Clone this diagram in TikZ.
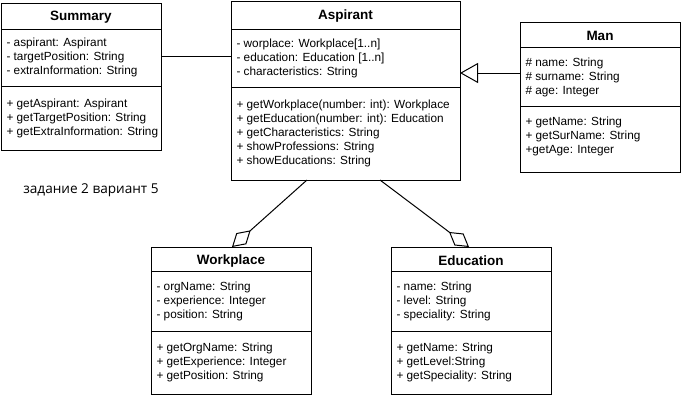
\documentclass[tikz,border=0pt]{standalone}
\usepackage{fontspec}
\setmainfont{Liberation Sans}
\newfontfamily\rufont{Open Sans}
\usetikzlibrary{arrows.meta}
\begin{document}
\begin{tikzpicture}[x=1pt,y=-1pt,line width=1pt,
  box/.style={draw,line width=1pt,anchor=north west,inner sep=0pt,outer sep=0pt},
  ttl/.style={font=\fontsize{13.5}{15}\selectfont\bfseries,inner sep=0pt},
  item/.style={anchor=base west,inner sep=0pt,font=\fontsize{11.8}{14}\selectfont},
  agg/.style={-{Diamond[open,length=25pt,width=15pt]}},
  inh/.style={-{Triangle[open,length=18pt,width=20pt]}}]
\useasboundingbox (0,0) rectangle (681,402);

% Summary
\node[box,minimum width=160pt,minimum height=147pt] (sum) at (1,3) {};
\node[ttl] (sumT) at (81,17.5) {Summary};
\draw (sum.west |- 0,29) -- (sum.east |- 0,29);
\draw (sum.west |- 0,86) -- (sum.east |- 0,86);
\foreach \t [count=\i] in {- aspirant: Aspirant,- targetPosition: String,- extraInformation: String}
  \node[item] (sumA\i) at (6,{32+14*\i}) {\t};
\foreach \t [count=\i] in {+ getAspirant: Aspirant,+ getTargetPosition: String,+ getExtraInformation: String}
  \node[item] (sumM\i) at (6,{93+14*\i}) {\t};

% Aspirant
\node[box,minimum width=229pt,minimum height=179pt] (asp) at (231,1) {};
\node[ttl] (aspT) at (345.5,16.5) {Aspirant};
\draw (asp.west |- 0,29) -- (asp.east |- 0,29);
\draw (asp.west |- 0,87) -- (asp.east |- 0,87);
\foreach \t [count=\i] in {- worplace: Workplace[1..n],- education: Education [1..n],- characteristics: String}
  \node[item] (aspA\i) at (236,{33+14*\i}) {\t};
\foreach \t [count=\i] in {+ getWorkplace(number: int): Workplace,+ getEducation(number: int): Education,+ getCharacteristics: String,+ showProfessions: String,+ showEducations: String}
  \node[item] (aspM\i) at (236,{94+14*\i}) {\t};

% Man
\node[box,minimum width=160pt,minimum height=150pt] (man) at (520,22) {};
\node[ttl] (manT) at (600,36) {Man};
\draw (man.west |- 0,47) -- (man.east |- 0,47);
\draw (man.west |- 0,106) -- (man.east |- 0,106);
\foreach \t [count=\i] in {\# name: String,\# surname: String,\# age: Integer}
  \node[item] (manA\i) at (525,{52+14*\i}) {\t};
\foreach \t [count=\i] in {+ getName: String,+ getSurName: String,+getAge: Integer}
  \node[item] (manM\i) at (525,{111+14*\i}) {\t};

% Workplace
\node[box,minimum width=160pt,minimum height=147pt] (wp) at (151,247) {};
\node[ttl] (wpT) at (231,261) {Workplace};
\draw (wp.west |- 0,271) -- (wp.east |- 0,271);
\draw (wp.west |- 0,331) -- (wp.east |- 0,331);
\foreach \t [count=\i] in {- orgName: String,- experience: Integer,- position: String}
  \node[item] (wpA\i) at (156,{276+14*\i}) {\t};
\foreach \t [count=\i] in {+ getOrgName: String,+ getExperience: Integer,+ getPosition: String}
  \node[item] (wpM\i) at (156,{337+14*\i}) {\t};

% Education
\node[box,minimum width=160pt,minimum height=147pt] (ed) at (391,247) {};
\node[ttl] (edT) at (471,261) {Education};
\draw (ed.west |- 0,271) -- (ed.east |- 0,271);
\draw (ed.west |- 0,331) -- (ed.east |- 0,331);
\foreach \t [count=\i] in {- name: String,- level: String,- speciality: String}
  \node[item] (edA\i) at (396,{276+14*\i}) {\t};
\foreach \t [count=\i] in {+ getName: String,+ getLevel:String,+ getSpeciality: String}
  \node[item] (edM\i) at (396,{337+14*\i}) {\t};

% note
\node[font=\rufont\fontsize{13.6}{15}\selectfont,inner sep=0pt] (note) at (91,190) {задание 2 вариант 5};

% connectors
\draw ([yshift=20.5pt]sum.east) coordinate (s1) -- (s1 -| asp.west);
\draw[inh] ([yshift=24pt]man.west) coordinate (m1) -- (m1 -| asp.east);
\draw[agg] ([xshift=-38.5pt]asp.south) -- ([xshift=1pt]wp.north);
\draw[agg] ([xshift=34.5pt]asp.south) -- ([xshift=-2pt]ed.north);
\end{tikzpicture}
\end{document}
